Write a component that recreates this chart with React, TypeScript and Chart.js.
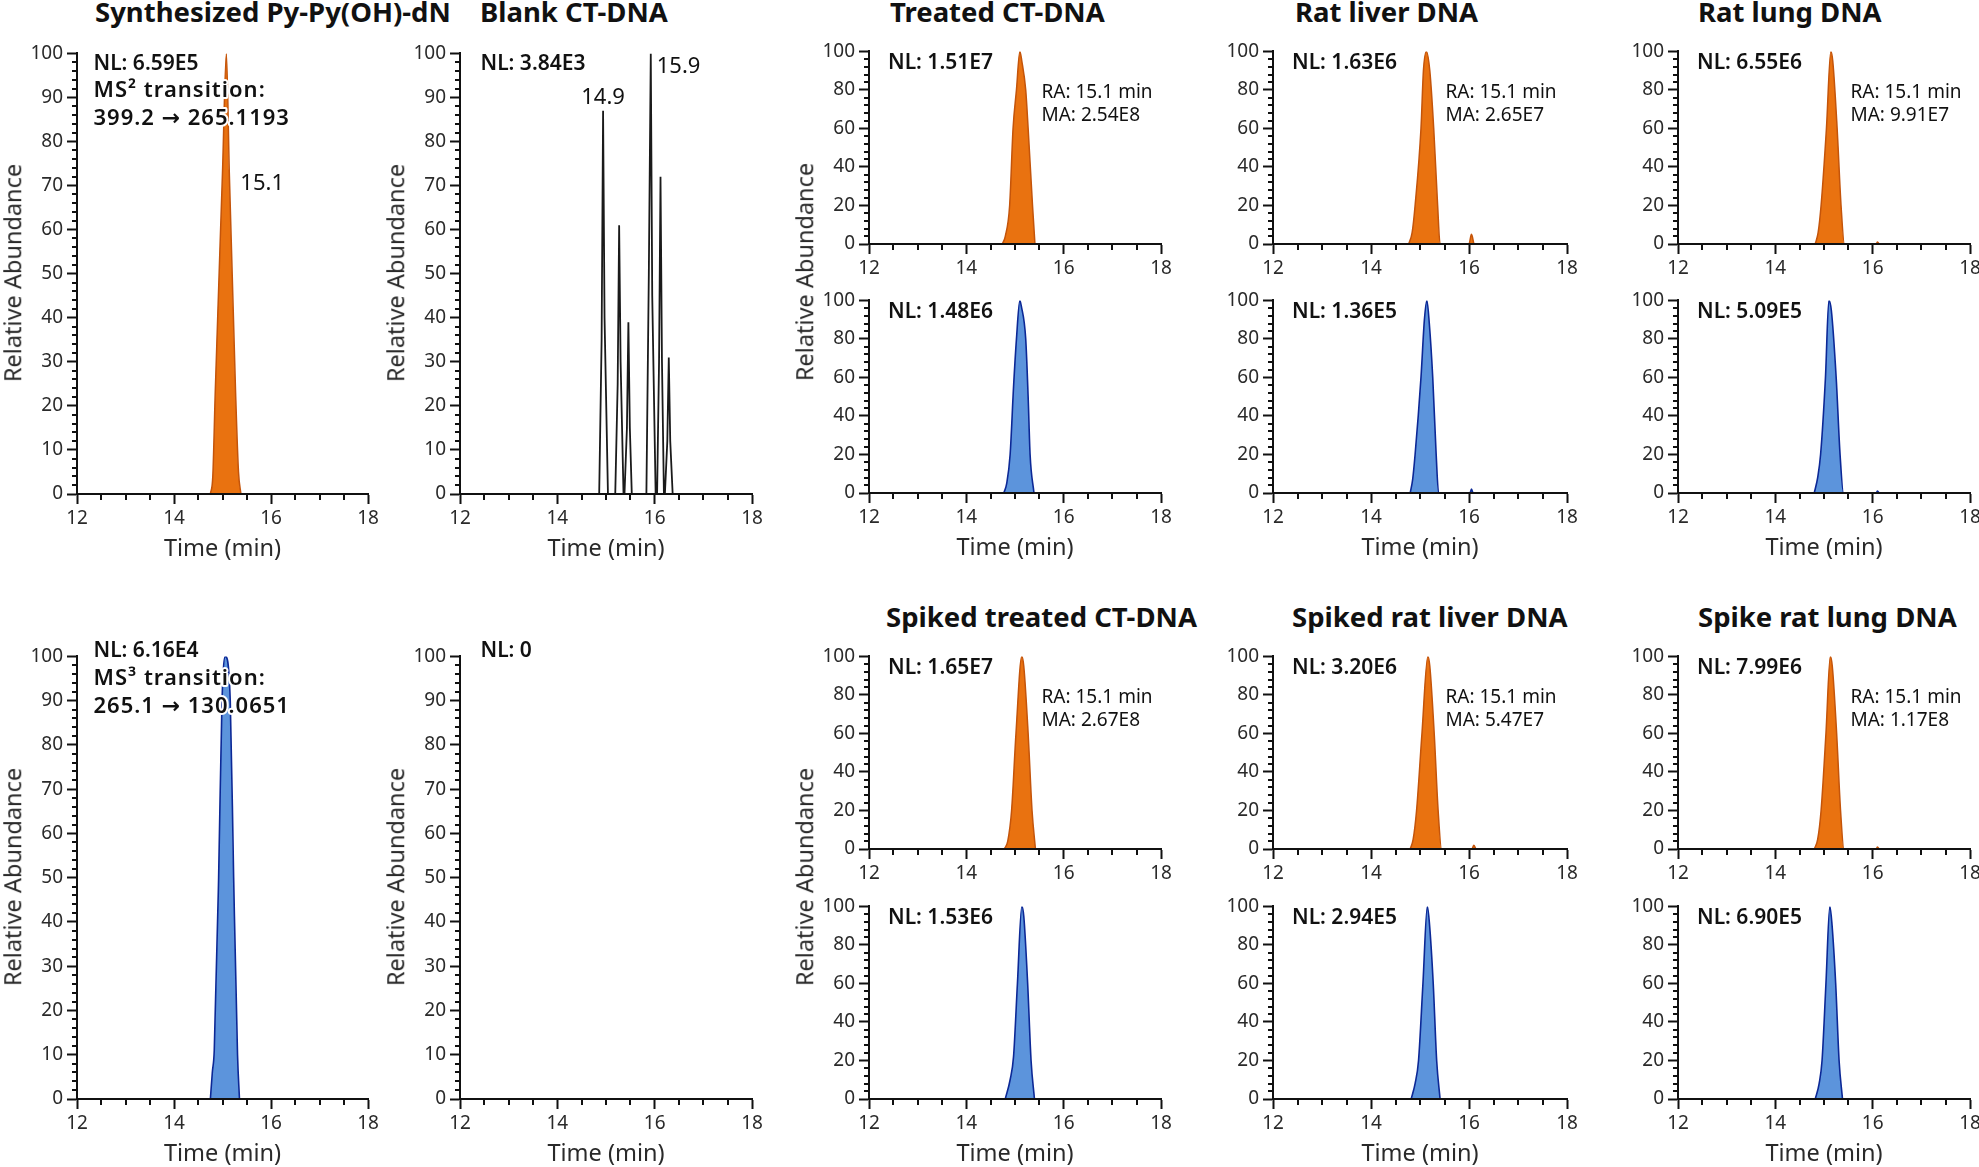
import React, { useEffect, useRef } from 'react';
import { Chart, registerables } from 'chart.js';
Chart.register(...registerables);

const FONT = "'Noto Sans', 'DejaVu Sans', sans-serif";

// ---------- axis ticks ----------
const timeMin = 12;
const timeMax = 18;
const timeMajorStep = 2;
const timeMinorStep = 0.5;
const abundMin = 0;
const abundMax = 100;

// ---------- data (time in min, relative abundance in %) ----------
const synthMS2Time = [14.75, 14.8, 14.85, 15.0, 15.08, 15.14, 15.27, 15.33, 15.38];
const synthMS2Abund = [0, 4, 23, 73, 100, 73, 23, 5, 0];
const synthMS3Time = [14.75, 14.79, 14.83, 14.92, 14.99, 15.06, 15.16, 15.23, 15.31, 15.35];
const synthMS3Abund = [0, 6, 11, 50, 90, 100, 90, 50, 10, 0];

const blankMS2Time = [14.86, 14.91, 14.94, 14.97, 15.04, 15.19, 15.24, 15.27, 15.3, 15.36, 15.38, 15.43, 15.46, 15.49, 15.53, 15.83, 15.88, 15.92, 15.95, 16.02, 16.05, 16.09, 16.12, 16.15, 16.19, 16.21, 16.26, 16.29, 16.32, 16.37];
const blankMS2Abund = [0, 35, 87, 40, 0, 0, 25, 61, 30, 0, 0, 15, 39, 15, 0, 0, 50, 100, 45, 0, 0, 30, 72, 30, 0, 0, 12, 31, 12, 0];
const blankMS3Time: number[] = [];
const blankMS3Abund: number[] = [];

const treatedMS2Time = [14.74, 14.8, 14.89, 14.96, 15.03, 15.1, 15.14, 15.22, 15.27, 15.36, 15.41];
const treatedMS2Abund = [0, 4, 20, 60, 80, 100, 95, 80, 60, 20, 0];
const treatedMS3Time = [14.77, 14.83, 14.9, 14.97, 15.03, 15.1, 15.13, 15.22, 15.27, 15.31, 15.39];
const treatedMS3Abund = [0, 5, 20, 55, 80, 100, 97, 80, 50, 20, 0];

const liverMS2Time = [14.77, 14.84, 14.9, 15.02, 15.07, 15.13, 15.2, 15.28, 15.36, 15.41, 16.0, 16.05, 16.1];
const liverMS2Abund = [0, 6, 20, 60, 90, 100, 90, 60, 20, 0, 0, 5, 0];
const liverMS3Time = [14.8, 14.85, 14.9, 15.02, 15.09, 15.14, 15.19, 15.26, 15.33, 15.38, 16.02, 16.05, 16.08];
const liverMS3Abund = [0, 7, 20, 60, 90, 100, 88, 60, 20, 0, 0, 2, 0];

const lungMS2Time = [14.82, 14.88, 14.94, 15.05, 15.14, 15.18, 15.27, 15.35, 15.42, 16.07, 16.1, 16.13];
const lungMS2Abund = [0, 6, 20, 60, 100, 95, 60, 20, 0, 0, 1, 0];
const lungMS3Time = [14.8, 14.87, 14.93, 15.03, 15.1, 15.15, 15.25, 15.33, 15.4, 16.07, 16.1, 16.13];
const lungMS3Abund = [0, 8, 20, 60, 100, 95, 60, 20, 0, 0, 1, 0];

const spTreatedMS2Time = [14.78, 14.85, 14.93, 15.02, 15.14, 15.18, 15.27, 15.35, 15.42];
const spTreatedMS2Abund = [0, 4, 20, 60, 100, 95, 60, 20, 0];
const spTreatedMS3Time = [14.8, 14.9, 14.97, 15.05, 15.14, 15.18, 15.26, 15.33, 15.4];
const spTreatedMS3Abund = [0, 10, 22, 60, 100, 95, 60, 20, 0];

const spLiverMS2Time = [14.8, 14.86, 14.93, 15.04, 15.16, 15.2, 15.29, 15.37, 15.44, 16.06, 16.1, 16.14];
const spLiverMS2Abund = [0, 5, 20, 60, 100, 95, 60, 20, 0, 0, 2, 0];
const spLiverMS3Time = [14.82, 14.9, 14.97, 15.06, 15.15, 15.19, 15.27, 15.34, 15.41];
const spLiverMS3Abund = [0, 8, 20, 60, 100, 92, 60, 20, 0];

const spLungMS2Time = [14.8, 14.87, 14.94, 15.04, 15.13, 15.17, 15.26, 15.34, 15.41, 16.07, 16.1, 16.13];
const spLungMS2Abund = [0, 5, 20, 60, 100, 95, 60, 20, 0, 0, 1, 0];
const spLungMS3Time = [14.82, 14.9, 14.96, 15.04, 15.12, 15.16, 15.24, 15.31, 15.38];
const spLungMS3Abund = [0, 8, 20, 60, 100, 92, 60, 20, 0];

// ---------- styles ----------
const STYLE: Record<string, { line: string; fill: string | null; width: number; smooth: boolean }> = {
  orange: { line: 'rgb(196,84,10)', fill: 'rgb(233,114,16)', width: 1.5, smooth: true },
  blue: { line: 'rgb(12,40,150)', fill: 'rgb(92,148,220)', width: 1.6, smooth: true },
  black: { line: '#1a1a1a', fill: null, width: 1.8, smooth: false },
};

const NL_FONT = `600 21px ${FONT}`;
const MS_FONT = `600 22px ${FONT}`;
const RA_FONT = `400 19px ${FONT}`;
const PEAK_FONT = `400 22px ${FONT}`;

const PL = 70, PT = 14, PR = 26, PB = 46;

type TextDef = { text: string; dx: number; dy: number; font: string; at?: [number, number]; align?: CanvasTextAlign; ls?: number };
type PanelDef = {
  left: number; top: number; w: number; h: number;
  yStep: number; yMinor: number;
  kind: string; time: number[]; abund: number[];
  texts: TextDef[];
};

const colL = [77, 460, 869, 1273, 1678];
const colW = [291, 292, 292, 294, 292];
const fullRows = [{ top: 52, h: 442 }, { top: 655, h: 444 }];
const smallRows = [{ top: 50, h: 194 }, { top: 299, h: 194 }, { top: 655, h: 194 }, { top: 905, h: 194 }];

function nl(t: string, dy = 18, dx = 19): TextDef { return { text: t, dx, dy, font: NL_FONT }; }
function ra(ma: string): TextDef[] {
  return [
    { text: 'RA: 15.1 min', dx: 172.5, dy: 47, font: RA_FONT },
    { text: ma, dx: 172.5, dy: 69.5, font: RA_FONT },
  ];
}

const panels: PanelDef[] = [
  {
    left: colL[0], top: fullRows[0].top, w: colW[0], h: fullRows[0].h, yStep: 10, yMinor: 2,
    kind: 'orange', time: synthMS2Time, abund: synthMS2Abund,
    texts: [
      { text: 'NL: 6.59E5', dx: 16.5, dy: 16.6, font: NL_FONT },
      { text: 'MS² transition:', dx: 16.5, dy: 43.5, font: MS_FONT, ls: 1 },
      { text: '399.2 → 265.1193', dx: 16.5, dy: 71.5, font: MS_FONT, ls: 1 },
      { text: '15.1', at: [15.1, 69], dx: 13, dy: 0, font: PEAK_FONT },
    ],
  },
  {
    left: colL[0], top: fullRows[1].top, w: colW[0], h: fullRows[1].h, yStep: 10, yMinor: 2,
    kind: 'blue', time: synthMS3Time, abund: synthMS3Abund,
    texts: [
      { text: 'NL: 6.16E4', dx: 16.5, dy: 1, font: NL_FONT },
      { text: 'MS³ transition:', dx: 16.5, dy: 28.5, font: MS_FONT, ls: 1 },
      { text: '265.1 → 130.0651', dx: 16.5, dy: 57, font: MS_FONT, ls: 1 },
    ],
  },
  {
    left: colL[1], top: fullRows[0].top, w: colW[1], h: fullRows[0].h, yStep: 10, yMinor: 2,
    kind: 'black', time: blankMS2Time, abund: blankMS2Abund,
    texts: [
      { text: 'NL: 3.84E3', dx: 20.5, dy: 16.6, font: NL_FONT },
      { text: '14.9', at: [14.94, 87], dx: 0, dy: -7, font: PEAK_FONT, align: 'center' },
      { text: '15.9', at: [15.92, 100], dx: 6, dy: 20, font: PEAK_FONT },
    ],
  },
  {
    left: colL[1], top: fullRows[1].top, w: colW[1], h: fullRows[1].h, yStep: 10, yMinor: 2,
    kind: 'black', time: blankMS3Time, abund: blankMS3Abund,
    texts: [{ text: 'NL: 0', dx: 20.5, dy: 1, font: NL_FONT }],
  },
  // treated CT-DNA
  { left: colL[2], top: smallRows[0].top, w: colW[2], h: smallRows[0].h, yStep: 20, yMinor: 4, kind: 'orange', time: treatedMS2Time, abund: treatedMS2Abund, texts: [nl('NL: 1.51E7'), ...ra('MA: 2.54E8')] },
  { left: colL[2], top: smallRows[1].top, w: colW[2], h: smallRows[1].h, yStep: 20, yMinor: 4, kind: 'blue', time: treatedMS3Time, abund: treatedMS3Abund, texts: [nl('NL: 1.48E6')] },
  // rat liver
  { left: colL[3], top: smallRows[0].top, w: colW[3], h: smallRows[0].h, yStep: 20, yMinor: 4, kind: 'orange', time: liverMS2Time, abund: liverMS2Abund, texts: [nl('NL: 1.63E6'), ...ra('MA: 2.65E7')] },
  { left: colL[3], top: smallRows[1].top, w: colW[3], h: smallRows[1].h, yStep: 20, yMinor: 4, kind: 'blue', time: liverMS3Time, abund: liverMS3Abund, texts: [nl('NL: 1.36E5')] },
  // rat lung
  { left: colL[4], top: smallRows[0].top, w: colW[4], h: smallRows[0].h, yStep: 20, yMinor: 4, kind: 'orange', time: lungMS2Time, abund: lungMS2Abund, texts: [nl('NL: 6.55E6'), ...ra('MA: 9.91E7')] },
  { left: colL[4], top: smallRows[1].top, w: colW[4], h: smallRows[1].h, yStep: 20, yMinor: 4, kind: 'blue', time: lungMS3Time, abund: lungMS3Abund, texts: [nl('NL: 5.09E5')] },
  // spiked treated
  { left: colL[2], top: smallRows[2].top, w: colW[2], h: smallRows[2].h, yStep: 20, yMinor: 4, kind: 'orange', time: spTreatedMS2Time, abund: spTreatedMS2Abund, texts: [nl('NL: 1.65E7'), ...ra('MA: 2.67E8')] },
  { left: colL[2], top: smallRows[3].top, w: colW[2], h: smallRows[3].h, yStep: 20, yMinor: 4, kind: 'blue', time: spTreatedMS3Time, abund: spTreatedMS3Abund, texts: [nl('NL: 1.53E6')] },
  // spiked liver
  { left: colL[3], top: smallRows[2].top, w: colW[3], h: smallRows[2].h, yStep: 20, yMinor: 4, kind: 'orange', time: spLiverMS2Time, abund: spLiverMS2Abund, texts: [nl('NL: 3.20E6'), ...ra('MA: 5.47E7')] },
  { left: colL[3], top: smallRows[3].top, w: colW[3], h: smallRows[3].h, yStep: 20, yMinor: 4, kind: 'blue', time: spLiverMS3Time, abund: spLiverMS3Abund, texts: [nl('NL: 2.94E5')] },
  // spiked lung
  { left: colL[4], top: smallRows[2].top, w: colW[4], h: smallRows[2].h, yStep: 20, yMinor: 4, kind: 'orange', time: spLungMS2Time, abund: spLungMS2Abund, texts: [nl('NL: 7.99E6'), ...ra('MA: 1.17E8')] },
  { left: colL[4], top: smallRows[3].top, w: colW[4], h: smallRows[3].h, yStep: 20, yMinor: 4, kind: 'blue', time: spLungMS3Time, abund: spLungMS3Abund, texts: [nl('NL: 6.90E5')] },
];

// ---------- page-level text ----------
const titles = [
  { text: 'Synthesized Py-Py(OH)-dN', x: 95, base: 22 },
  { text: 'Blank CT-DNA', x: 480, base: 22 },
  { text: 'Treated CT-DNA', x: 890, base: 22 },
  { text: 'Rat liver DNA', x: 1295, base: 22 },
  { text: 'Rat lung DNA', x: 1698, base: 22 },
  { text: 'Spiked treated CT-DNA', x: 886, base: 627 },
  { text: 'Spiked rat liver DNA', x: 1292, base: 627 },
  { text: 'Spike rat lung DNA', x: 1698, base: 627 },
];

const xTitlePanels = [0, 1, 2, 3, 5, 7, 9, 11, 13, 15];
const yTitles = [
  { axis: colL[0], cy: fullRows[0].top + fullRows[0].h / 2 },
  { axis: colL[0], cy: fullRows[1].top + fullRows[1].h / 2 },
  { axis: colL[1], cy: fullRows[0].top + fullRows[0].h / 2 },
  { axis: colL[1], cy: fullRows[1].top + fullRows[1].h / 2 },
  { axis: colL[2], cy: (smallRows[0].top + smallRows[1].top + smallRows[1].h) / 2 },
  { axis: colL[2], cy: (smallRows[2].top + smallRows[3].top + smallRows[3].h) / 2 },
];

function makeDecor(p: PanelDef) {
  return {
    id: 'decor',
    afterDraw(chart: any) {
      const { ctx, chartArea } = chart;
      const sx = chart.scales.x, sy = chart.scales.y;
      ctx.save();
      ctx.strokeStyle = '#111';
      ctx.lineWidth = 2;
      ctx.beginPath();
      for (let v = timeMin; v <= timeMax + 1e-9; v += timeMinorStep) {
        if (Math.abs(v / timeMajorStep - Math.round(v / timeMajorStep)) < 1e-6) continue;
        const px = Math.round(sx.getPixelForValue(v));
        ctx.moveTo(px, chartArea.bottom);
        ctx.lineTo(px, chartArea.bottom + 6);
      }
      for (let v = abundMin; v <= abundMax + 1e-9; v += p.yMinor) {
        if (Math.abs(v / p.yStep - Math.round(v / p.yStep)) < 1e-6) continue;
        const py = Math.round(sy.getPixelForValue(v));
        ctx.moveTo(chartArea.left, py);
        ctx.lineTo(chartArea.left - 5, py);
      }
      ctx.stroke();
      ctx.restore();
    },
    afterDatasetsDraw(chart: any) {
      const { ctx, chartArea } = chart;
      const sx = chart.scales.x, sy = chart.scales.y;
      ctx.save();
      for (const t of p.texts) {
        let x: number, y: number;
        if (t.at) {
          x = sx.getPixelForValue(t.at[0]) + t.dx;
          y = sy.getPixelForValue(t.at[1]) + t.dy;
        } else {
          x = chartArea.left + t.dx;
          y = chartArea.top + t.dy;
        }
        ctx.font = t.font;
        (ctx as any).letterSpacing = `${t.ls || 0}px`;
        ctx.textAlign = t.align || 'left';
        ctx.textBaseline = 'alphabetic';
        ctx.lineJoin = 'round';
        ctx.strokeStyle = '#fff';
        ctx.lineWidth = 4;
        ctx.strokeText(t.text, x, y);
        ctx.fillStyle = '#111';
        ctx.fillText(t.text, x, y);
      }
      (ctx as any).letterSpacing = '0px';
      ctx.restore();
    },
  };
}

function Panel({ p }: { p: PanelDef }) {
  const ref = useRef<HTMLCanvasElement>(null);
  const W = p.w + PL + PR;
  const H = p.h + PT + PB;
  useEffect(() => {
    const st = STYLE[p.kind];
    const points = p.time.map((t, i) => ({ x: t, y: p.abund[i] }));
    const tickFont = { family: FONT, size: 19 };
    const chart = new Chart(ref.current as HTMLCanvasElement, {
      type: 'line',
      data: {
        datasets: [
          {
            data: points,
            borderColor: st.line,
            backgroundColor: st.fill || 'transparent',
            borderWidth: st.width,
            fill: st.fill ? 'origin' : false,
            pointRadius: 0,
            tension: 0,
            cubicInterpolationMode: st.smooth ? 'monotone' : 'default',
          } as any,
        ],
      },
      options: {
        animation: false,
        responsive: false,
        events: [],
        layout: { padding: { left: 0, top: PT, right: PR, bottom: 0 } },
        plugins: {
          legend: { display: false },
          tooltip: { enabled: false },
        },
        scales: {
          x: {
            type: 'linear',
            min: timeMin,
            max: timeMax,
            afterFit: (s: any) => { s.height = PB; },
            border: { display: true, color: '#111', width: 2, z: 1 },
            grid: { display: true, drawOnChartArea: false, drawTicks: true, tickLength: 10, tickWidth: 2, tickColor: '#111', color: '#111' },
            ticks: { stepSize: timeMajorStep, autoSkip: false, maxRotation: 0, padding: 3, color: '#2a2a2a', font: tickFont },
          },
          y: {
            type: 'linear',
            min: abundMin,
            max: abundMax,
            afterFit: (s: any) => { s.width = PL; },
            border: { display: true, color: '#111', width: 2, z: 1 },
            grid: { display: true, drawOnChartArea: false, drawTicks: true, tickLength: 10, tickWidth: 2, tickColor: '#111', color: '#111' },
            ticks: { stepSize: p.yStep, autoSkip: false, padding: 4, color: '#2a2a2a', font: tickFont },
          },
        },
      },
      plugins: [makeDecor(p)],
    } as any);
    return () => chart.destroy();
  }, []);
  return (
    <canvas
      ref={ref}
      width={W}
      height={H}
      style={{ position: 'absolute', left: p.left - PL, top: p.top - PT, width: W, height: H }}
    />
  );
}

function baseTop(base: number, fs: number) {
  return base - 0.888 * fs;
}

export default function App() {
  const TITLE_FS = 27.5;
  const AX_FS = 23.5;
  return (
    <div style={{ position: 'absolute', left: 0, top: 0, width: 1979, height: 1167, background: '#fff', overflow: 'hidden', fontFamily: FONT }}>
      {panels.map((p, i) => <Panel key={i} p={p} />)}
      {titles.map((t, i) => (
        <div key={'t' + i} style={{ position: 'absolute', left: t.x, top: baseTop(t.base, TITLE_FS), fontSize: TITLE_FS, lineHeight: `${TITLE_FS}px`, fontWeight: 700, color: '#111', whiteSpace: 'nowrap' }}>{t.text}</div>
      ))}
      {xTitlePanels.map((pi) => {
        const p = panels[pi];
        return (
          <div key={'x' + pi} style={{ position: 'absolute', left: p.left + p.w / 2, top: baseTop(p.top + p.h + 63, AX_FS), transform: 'translateX(-50%)', fontSize: AX_FS, lineHeight: `${AX_FS}px`, color: '#2a2a2a', whiteSpace: 'nowrap' }}>Time (min)</div>
        );
      })}
      {yTitles.map((y, i) => (
        <div key={'y' + i} style={{ position: 'absolute', left: y.axis - 64, top: y.cy, transform: 'translate(-50%, -50%) rotate(-90deg)', fontSize: AX_FS, lineHeight: `${AX_FS}px`, color: '#2a2a2a', whiteSpace: 'nowrap' }}>Relative Abundance</div>
      ))}
    </div>
  );
}
